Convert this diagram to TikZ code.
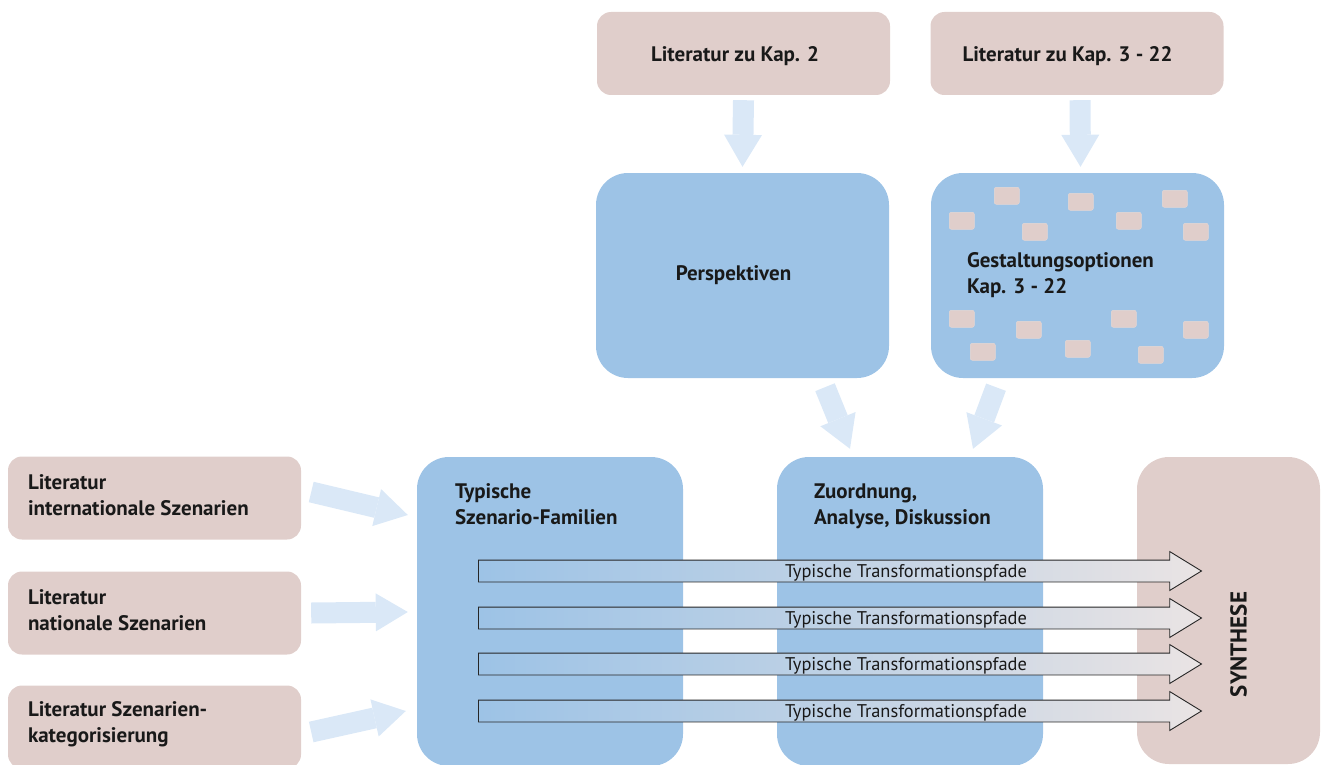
\documentclass[tikz,border=0pt]{standalone}
\usepackage{fontspec}
\setmainfont{PT Sans}
\usetikzlibrary{calc, arrows.meta, shapes.arrows}
\definecolor{boxblue}{RGB}{157,195,230}
\definecolor{boxrose}{RGB}{224,206,203}
\definecolor{arrowblue}{RGB}{218,232,247}
\definecolor{pathend}{RGB}{234,228,228}
\def\lblsize{21pt}
\tikzset{
    litbox/.style = {fill=boxrose, rounded corners=14pt, minimum width=293pt, minimum height=83pt, inner sep=0pt},
    bluebox/.style = {fill=boxblue, rounded corners=32pt, inner sep=0pt},
    tag/.style = {fill=boxrose, draw=boxrose!80!white, rounded corners=2pt, minimum width=25pt, minimum height=17pt, inner sep=0pt},
    lbl/.style = {font=\fontsize{\lblsize}{26pt}\selectfont\bfseries, align=left, inner sep=0pt, text=black!90},
    fatarrow/.style = {draw=arrowblue, line width=21pt, -{Triangle[width=38pt, length=32pt, line width=0pt 0]}},
    patharrow/.style = {single arrow, anchor=tail, draw=black!85, line width=0.9pt, left color=boxblue, right color=pathend, middle color=boxblue!55!pathend,
        minimum height=723pt, inner xsep=0pt, inner ysep=10.5pt, single arrow head extend=8.5pt, single arrow tip angle=63},
    pathtext/.style = {font=\fontsize{18.4pt}{20pt}\selectfont, inner sep=0pt, text=black!90}
}

\begin{document}
\begin{tikzpicture}[x=1pt, y=-1pt]
        \useasboundingbox (0,0) rectangle (1322,765);

        % literature boxes on top
        \node[litbox] (lit2) at (743.5,53.5) {};
        \node[litbox] (lit3) at (1077,53.5) {};
        \node[lbl, anchor=west] at ([xshift=54pt, yshift=-3pt]lit2.west) {Literatur zu Kap. 2};
        \node[lbl, anchor=west] at ([xshift=32pt, yshift=-3pt]lit3.west) {Literatur zu Kap. 3 - 22};

        % perspectives and options
        \node[bluebox, minimum width=293pt, minimum height=205pt] (persp) at (742.5,275.5) {};
        \node[bluebox, minimum width=293pt, minimum height=205pt] (gest) at (1077.5,275.5) {};
        \node[lbl] at ([xshift=-9pt]persp.center) {Perspektiven};
        \foreach \dx/\dy in {31/48, 76/23, 104/59, 150/29, 198/48, 244/26, 265/59,
                             31/146, 98/157, 52/179, 147/176, 193/146, 220/182, 265/157}
            \node[tag] at ($(gest.north west)+(\dx,\dy)$) {};
        \node[lbl, anchor=west] at ([xshift=36pt]gest.west) {Gestaltungsoptionen\\Kap. 3 - 22};

        % literature boxes on the left
        \node[litbox] (lint) at (154.5,498) {};
        \node[litbox] (lnat) at (154.5,613) {};
        \node[litbox] (lkat) at (154.5,727) {};
        \node[lbl, anchor=west] at ([xshift=20pt, yshift=3pt]lint.west) {Literatur\\internationale Szenarien};
        \node[lbl, anchor=west] at ([xshift=20pt, yshift=3pt]lnat.west) {Literatur\\nationale Szenarien};
        \node[lbl, anchor=west] at ([xshift=20pt, yshift=3pt]lkat.west) {Literatur Szenarien-\\kategorisierung};

        % lower row
        \node[bluebox, minimum width=266pt, minimum height=309pt] (fam) at (550,611.5) {};
        \node[bluebox, minimum width=266pt, minimum height=309pt] (zuord) at (910,611.5) {};
        \node[fill=boxrose, rounded corners=32pt, minimum width=183pt, minimum height=307pt] (syn) at (1228.5,610.5) {};
        \node[lbl, anchor=north west] at ($(fam.north west)+(38,27)$) {Typische\\Szenario-Familien};
        \node[lbl, anchor=north west] at ($(zuord.north west)+(37,27)$) {Zuordnung,\\Analyse, Diskussion};
        \node[lbl, rotate=90, font=\fontsize{23pt}{24pt}\selectfont\bfseries] at ($(syn.center)+(10,34)$) {SYNTHESE};

        % fat arrows
        \coordinate (a1t) at ($(lit2.south)+(0,5)$);
        \coordinate (a1h) at ($(persp.north)+(0,-6)$);
        \coordinate (a2t) at ($(lit3.south)+(3,5)$);
        \coordinate (a2h) at ($(gest.north)+(3,-6)$);
        \coordinate (a3t) at ($(persp.south)+(82.5,9)$);
        \coordinate (a3h) at ($(zuord.north)+(-60,-8)$);
        \coordinate (a4t) at ($(gest.south)+(-81.5,9)$);
        \coordinate (a4h) at ($(zuord.north)+(63,-8)$);
        \coordinate (a5t) at ($(lint.east)+(10,-6)$);
        \coordinate (a5h) at ($(fam.west |- lint.east)+(-9,17)$);
        \coordinate (a6t) at ($(lnat.east)+(10,0)$);
        \coordinate (a6h) at ($(fam.west |- lnat.east)+(-9,-1)$);
        \coordinate (a7t) at ($(lkat.east)+(10,5)$);
        \coordinate (a7h) at ($(fam.west |- lkat.east)+(-11,-16)$);
        \foreach \i in {1,...,7}
            \draw[fatarrow] (a\i t) -- (a\i h);

        % transformation paths
        \foreach \i/\y in {1/571, 2/618, 3/664, 4/711} {
            \node[patharrow] (tp\i) at (478,\y) {};
            \node[pathtext] at ([xshift=428pt, yshift=-1.5pt]tp\i.tail) {Typische Transformationspfade};
        }
\end{tikzpicture}
\end{document}
